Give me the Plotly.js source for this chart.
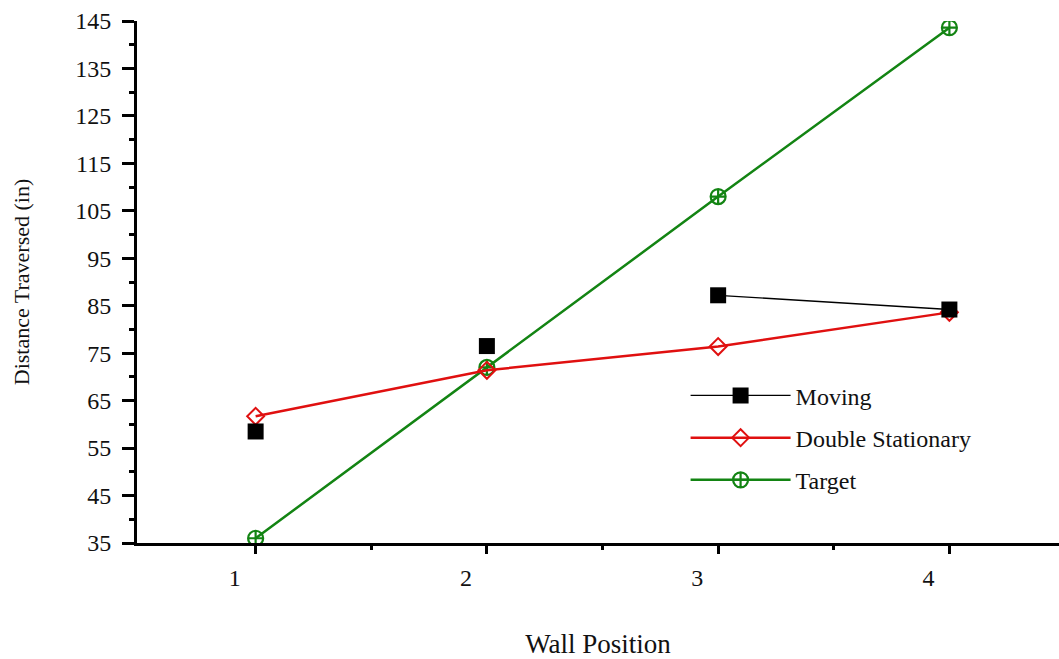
<!DOCTYPE html>
<html>
<head>
<meta charset="utf-8">
<script src="https://cdn.plot.ly/plotly-3.0.1.min.js"></script>
<style>html,body{margin:0;padding:0;background:#fff;}#chart{width:1059px;height:659px;}</style>
</head>
<body>
<div id="chart"></div>
<script>
const wallPositions = [1, 2, 3, 4];
const movingValues = [58.5, 76.5, 87.2, 84.2];
const doubleStationaryValues = [61.7, 71.4, 76.4, 83.6];
const targetValues = [36.0, 72.0, 108.0, 143.6];
const xTickLabels = ['1', '2', '3', '4'];
const xMinorTicks = [1.5, 2.5, 3.5];
const seriesNames = ['Moving', 'Double Stationary', 'Target'];

const FONT = 'Liberation Serif, Times New Roman, serif';

const traces = [
  {
    x: wallPositions, y: targetValues, name: seriesNames[2], mode: 'lines+markers',
    legendgroup: 'c', legendrank: 3,
    line: {color: '#138413', width: 2.5},
    marker: {symbol: 'circle-cross-open', size: 15, color: '#138413', line: {width: 2.2, color: '#138413'}}
  },
  {
    x: wallPositions, y: doubleStationaryValues, name: seriesNames[1], mode: 'lines+markers',
    legendgroup: 'b', legendrank: 2,
    line: {color: '#e01010', width: 2.5},
    marker: {symbol: 'diamond-open', size: 13, color: '#e01010', line: {width: 2, color: '#e01010'}}
  },
  {
    x: wallPositions.slice(0, 2), y: movingValues.slice(0, 2), name: seriesNames[0], mode: 'markers',
    legendgroup: 'a', showlegend: false,
    marker: {symbol: 'square', size: 16, color: '#000000'}
  },
  {
    x: wallPositions.slice(2), y: movingValues.slice(2), name: seriesNames[0], mode: 'lines+markers',
    legendgroup: 'a', legendrank: 1,
    line: {color: '#000000', width: 1.3},
    marker: {symbol: 'square', size: 16, color: '#000000'}
  }
];

const layout = {
  width: 1059, height: 659,
  margin: {l: 137, r: 0, t: 21, b: 116},
  paper_bgcolor: '#ffffff', plot_bgcolor: '#ffffff',
  font: {family: FONT, size: 24, color: '#111'},
  showlegend: true,
  legend: {
    x: 0.595, y: 0.325, xanchor: 'left', yanchor: 'top',
    itemwidth: 100,
    bgcolor: 'rgba(0,0,0,0)', tracegroupgap: 8,
    font: {family: FONT, size: 24, color: '#111'}
  },
  xaxis: {
    range: [0.487, 4.474],
    tickmode: 'array', tickvals: wallPositions, ticktext: xTickLabels,
    ticks: 'outside', ticklen: 8, tickwidth: 3, tickcolor: '#000',
    ticklabelshift: -21, ticklabelstandoff: 3,
    minor: {tickmode: 'array', tickvals: xMinorTicks, ticks: 'outside', ticklen: 4, tickwidth: 3, tickcolor: '#000'},
    showline: true, linecolor: '#000', linewidth: 3,
    showgrid: false, zeroline: false,
    tickfont: {family: FONT, size: 24, color: '#111'},
    title: {text: 'Wall Position', standoff: 46, font: {family: FONT, size: 27, color: '#111'}}
  },
  yaxis: {
    range: [35, 145],
    tick0: 35, dtick: 10,
    ticks: 'outside', ticklen: 12, tickwidth: 3, tickcolor: '#000',
    ticklabelstandoff: 6,
    minor: {dtick: 5, tick0: 35, ticks: 'outside', ticklen: 5, tickwidth: 3, tickcolor: '#000'},
    showline: true, linecolor: '#000', linewidth: 3,
    showgrid: false, zeroline: false,
    tickfont: {family: FONT, size: 24, color: '#111'},
    title: {text: 'Distance Traversed (in)', standoff: 40, font: {family: FONT, size: 22, color: '#111'}}
  }
};

Plotly.newPlot('chart', traces, layout, {displayModeBar: false, staticPlot: true});
</script>
</body>
</html>
